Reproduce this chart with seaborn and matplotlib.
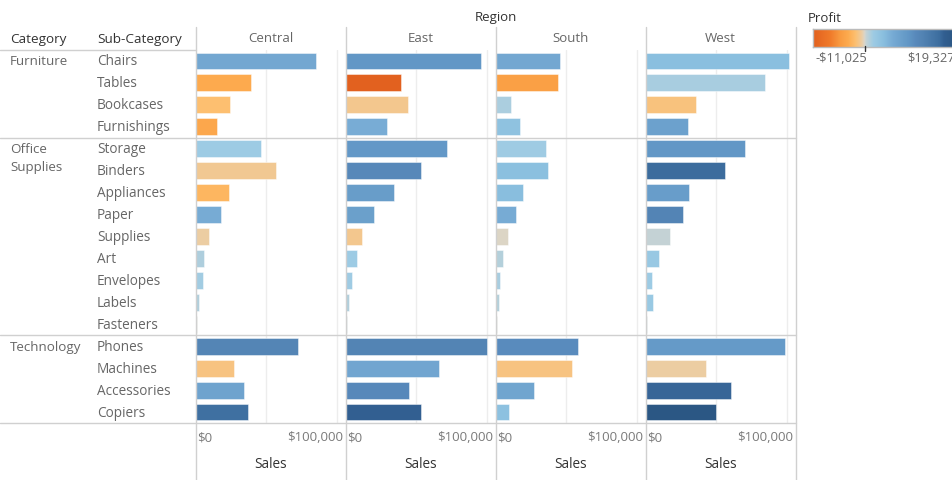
import numpy as np
import pandas as pd
import matplotlib
matplotlib.use("Agg")
import matplotlib.pyplot as plt
from matplotlib.colors import LinearSegmentedColormap, Normalize
from matplotlib.lines import Line2D
from matplotlib.transforms import ScaledTranslation
import seaborn as sns

# ---- data -------------------------------------------------------------
regions = ["Central", "East", "South", "West"]
categories = ["Furniture", "Office\nSupplies", "Technology"]
category_sizes = [4, 9, 4]
sub_categories = ["Chairs", "Tables", "Bookcases", "Furnishings",
                  "Storage", "Binders", "Appliances", "Paper", "Supplies",
                  "Art", "Envelopes", "Labels", "Fasteners",
                  "Phones", "Machines", "Accessories", "Copiers"]

sales_central = [85231, 39155, 24157, 15255, 45930, 56923, 23582, 17491, 9467,
                 5765, 4637, 2451, 778, 72403, 26797, 33956, 37260]
sales_east = [96261, 39140, 43819, 29071, 71613, 53498, 34188, 20173, 11111,
              7486, 4376, 2353, 819, 100615, 66106, 45033, 53219]
sales_south = [45176, 43916, 10899, 17307, 35768, 37030, 19525, 14150, 8319,
               4655, 3000, 2000, 503, 58304, 53891, 27277, 9300]
sales_west = [101781, 84755, 35683, 30073, 70532, 55961, 30236, 26664, 17424,
              9206, 4118, 5078, 923, 98684, 42445, 60680, 49750]

profit_central = [6593, -3560, -1998, -3906, 1970, -1044, -2639, 5948, -662,
                  1195, 1778, 1073, 237, 12000, -1486, 7252, 15609]
profit_east = [9357, -11025, -1167, 5881, 9018, 11268, 8391, 7893, -1155,
               1900, 1812, 1129, 264, 12315, 6929, 11196, 17023]
profit_south = [6612, -4623, 1339, 3443, 1800, 3900, 4124, 5947, -50,
                1059, 1465, 1040, 174, 10767, -1439, 7005, 3659]
profit_west = [4028, 1483, -1647, 7642, 9274, 16096, 8262, 12119, 400,
               2375, 1909, 2303, 275, 8800, -700, 16485, 19327]

profit_min, profit_max = -11025, 19327
legend_labels = ["-$11,025", "$19,327"]
tick_labels = ["$0", "$100,000"]

sales = {"Central": sales_central, "East": sales_east,
         "South": sales_south, "West": sales_west}
profit = {"Central": profit_central, "East": profit_east,
          "South": profit_south, "West": profit_west}

rows = []
for r in regions:
    for sc, s, p in zip(sub_categories, sales[r], profit[r]):
        rows.append({"Region": r, "Sub-Category": sc, "Sales": s, "Profit": p})
df = pd.DataFrame(rows)

# ---- orange-blue diverging colour ramp --------------------------------
ramp = [(-11025, "#e2611f"), (-7400, "#f07a2a"), (-5300, "#f99a40"),
        (-3500, "#fdab4f"), (-2000, "#fdbf6f"), (-1000, "#f1c893"),
        (-500, "#eacfaa"), (0, "#dad6ca"), (300, "#c7d3d4"),
        (1100, "#b1cfdc"), (1900, "#9dcbe4"), (4000, "#8abfdf"),
        (6000, "#77abd4"), (8000, "#6a9fcb"), (9500, "#6196c5"),
        (11000, "#5889bb"), (12500, "#5283b3"), (16000, "#3d6e9f"),
        (17000, "#325f91"), (19327, "#2b5784")]
norm = Normalize(profit_min, profit_max)
cmap = LinearSegmentedColormap.from_list(
    "orange_blue", [(float(norm(v)), c) for v, c in ramp])

# ---- figure -------------------------------------------------------------
sns.set_theme(style="white")
plt.rcParams["font.family"] = ["Open Sans", "DejaVu Sans"]

W, H = 952, 480
fig = plt.figure(figsize=(W / 100, H / 100), dpi=100)


def fx(px):
    return px / W


def fy(py):
    return 1 - py / H


LINE = "#d0d0d0"
DARK = "#333333"
MID = "#666666"
LIGHT = "#7a7a7a"

top, bottom = 50, 423
pane_left = [196, 346, 496, 646]
pane_w = 149
xmax = 106000

for r, left in zip(regions, pane_left):
    ax = fig.add_axes([fx(left), fy(bottom), fx(pane_w), (bottom - top) / H])
    sub = df[df["Region"] == r]
    palette = {sc: cmap(norm(p)) for sc, p in zip(sub["Sub-Category"], sub["Profit"])}
    sns.barplot(data=sub, x="Sales", y="Sub-Category", hue="Sub-Category",
                order=sub_categories, palette=palette, width=0.77,
                saturation=1, legend=False, ax=ax,
                edgecolor=(1, 1, 1, 0.45), linewidth=0.7)
    ax.set_xlim(0, xmax)
    ax.set_ylim(len(sub_categories) - 0.5, -0.5)
    for g in (50000, 100000):
        ax.axvline(g, color="#ededed", lw=1, zorder=0)
    for sp in ax.spines.values():
        sp.set_visible(False)
    ax.set_yticks([])
    ax.set_ylabel("")
    ax.set_xlabel("")
    ax.set_xticks([0, 100000])
    ax.set_xticklabels(tick_labels)
    ax.tick_params(axis="x", length=0, pad=6, labelsize=9.5, labelcolor=LIGHT)
    lbls = ax.get_xticklabels()
    lbls[0].set_ha("left")
    lbls[0].set_transform(lbls[0].get_transform() +
                          ScaledTranslation(1.5 / 100, 0, fig.dpi_scale_trans))
    lbls[1].set_ha("right")
    lbls[1].set_transform(lbls[1].get_transform() +
                          ScaledTranslation(6.5 / 100, 0, fig.dpi_scale_trans))
    ax.patch.set_alpha(0)

    fig.text(fx(left + pane_w / 2), fy(39), r, ha="center", va="center",
             fontsize=9.5, color=MID)
    fig.text(fx(left + pane_w / 2), fy(465), "Sales", ha="center", va="center",
             fontsize=9.8, color=DARK)

# headers
fig.text(fx(496), fy(17), "Region", ha="center", va="center", fontsize=9.5, color=DARK)
fig.text(fx(10), fy(40), "Category", ha="left", va="center", fontsize=9.7, color=DARK)
fig.text(fx(97), fy(40), "Sub-Category", ha="left", va="center", fontsize=9.7, color=DARK)

# row labels
row_h = (bottom - top) / len(sub_categories)
for i, sc in enumerate(sub_categories):
    fig.text(fx(97), fy(top + (i + 0.5) * row_h + 1), sc, ha="left", va="center",
             fontsize=9.8, color=MID)

start = 0
for cat, n in zip(categories, category_sizes):
    y0 = top + (start + 0.5) * row_h + 1
    for k, line in enumerate(cat.split("\n")):
        fig.text(fx(10), fy(y0 + k * 17.5), line, ha="left", va="center",
                 fontsize=9.6, color=MID)
    start += n

# grid of pane / category separators
for x in [195.5, 345.5, 495.5, 645.5, 795.5]:
    fig.add_artist(Line2D([fx(x), fx(x)], [fy(27), fy(480)],
                          transform=fig.transFigure, color=LINE, lw=1))
fig.add_artist(Line2D([fx(0), fx(195.5)], [fy(49.5), fy(49.5)],
                      transform=fig.transFigure, color=LINE, lw=1))
start = 0
for n in category_sizes:
    start += n
    y = top + start * row_h
    fig.add_artist(Line2D([fx(0), fx(795.5)], [fy(y), fy(y)],
                          transform=fig.transFigure, color=LINE, lw=1))

# colour legend
fig.text(fx(808), fy(18), "Profit", ha="left", va="center", fontsize=9.5, color=DARK)
bar_l, bar_r, bar_t, bar_b = 813, 955, 29, 47
cax = fig.add_axes([fx(bar_l), fy(bar_b), fx(bar_r - bar_l), (bar_b - bar_t) / H])
grad = np.linspace(profit_min, profit_max, 512).reshape(1, -1)
cax.imshow(grad, aspect="auto", cmap=cmap, norm=norm,
           extent=[profit_min, profit_max, 0, 1])
cax.set_xticks([])
cax.set_yticks([])
for sp in cax.spines.values():
    sp.set_color("#bbbbbb")
    sp.set_linewidth(1)
zero_x = bar_l + (bar_r - bar_l) * float(norm(0))
fig.add_artist(Line2D([fx(zero_x), fx(zero_x)], [fy(46), fy(51)],
                      transform=fig.transFigure, color="#333333", lw=1))
fig.text(fx(815), fy(58), legend_labels[0], ha="left", va="center",
         fontsize=9.3, color=MID)
fig.text(fx(bar_r), fy(58), legend_labels[1], ha="right", va="center",
         fontsize=9.3, color=MID)

fig.savefig("out.png", dpi=100)
